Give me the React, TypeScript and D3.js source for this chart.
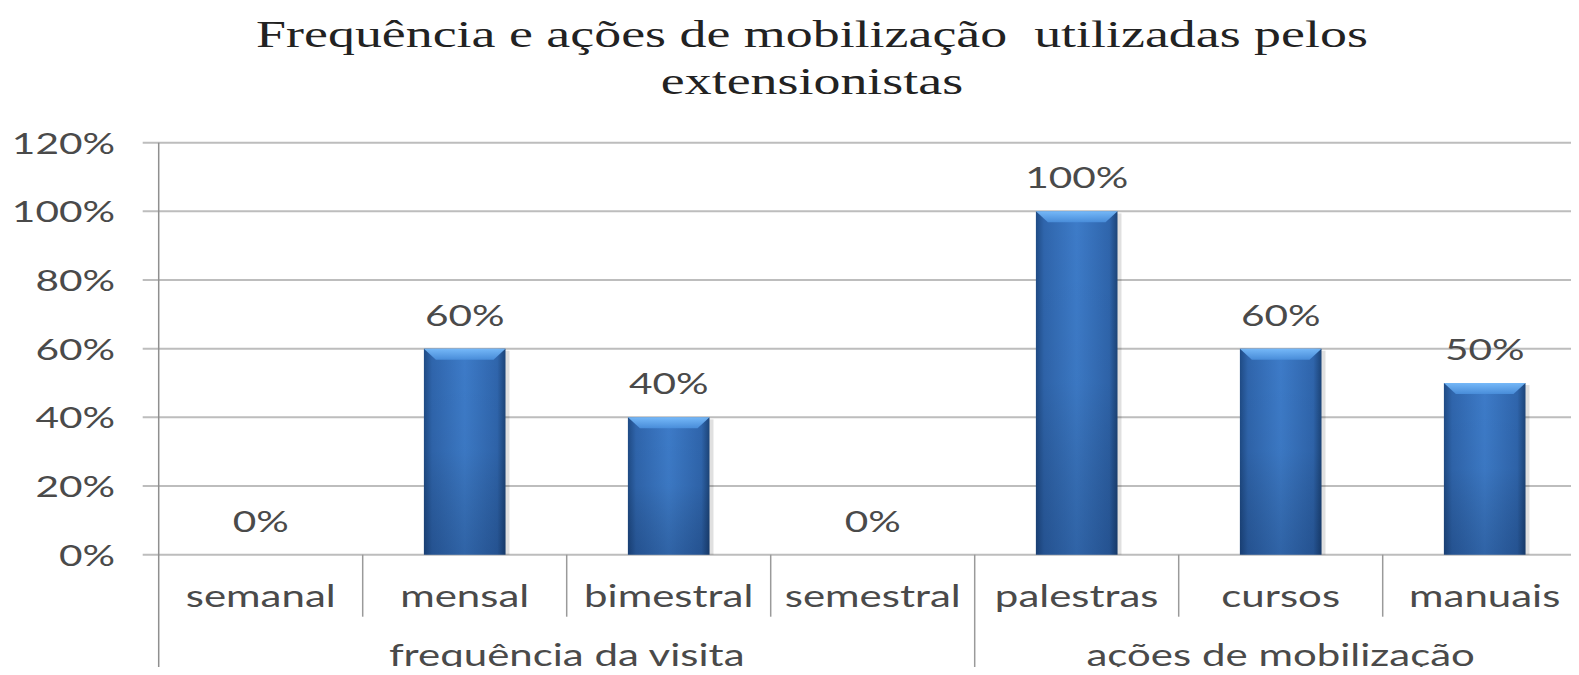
import React, { useEffect, useRef } from 'react';
import * as d3 from 'd3';

const titleLines = ['Frequência e ações de mobilização  utilizadas pelos', 'extensionistas'];
const categories = ['semanal', 'mensal', 'bimestral', 'semestral', 'palestras', 'cursos', 'manuais'];
const values = [0, 0.6, 0.4, 0, 1.0, 0.6, 0.5];
const groupNames = ['frequência da visita', 'ações de mobilização'];
const groupSizes = [4, 3];
const yTicks = [0, 0.2, 0.4, 0.6, 0.8, 1.0, 1.2];

const App: React.FC = () => {
  const chartRef = useRef<HTMLDivElement>(null);

  useEffect(() => {
    if (!chartRef.current) return;

    const width = 1579;
    const height = 675;
    const plot = { left: 158.7, right: 1586.7, top: 142.7, bottom: 554.7 };
    const sx = 1.4; // the picture is stretched sideways, text too
    const labelFont = 'Lato, "Open Sans", sans-serif';
    const textColor = '#4a4a4a';

    d3.select(chartRef.current).select('svg').remove();

    const svg = d3
      .select(chartRef.current)
      .append('svg')
      .attr('width', width)
      .attr('height', height)
      .style('display', 'block')
      .style('background', '#fff');

    const xScale = d3
      .scaleBand<string>()
      .domain(categories)
      .range([plot.left, plot.right])
      .paddingInner(0.6)
      .paddingOuter(0.3);
    const step = xScale.step();

    const yScale = d3.scaleLinear().domain([0, 1.2]).range([plot.bottom, plot.top]);

    const addText = (
      g: d3.Selection<SVGGElement, unknown, null, undefined>,
      x: number,
      y: number,
      txt: string,
      anchor: string,
      size: number,
      family: string,
      color: string,
      weight = 400,
    ) =>
      g
        .append('text')
        .attr('transform', `translate(${x},${y}) scale(${sx},1)`)
        .attr('text-anchor', anchor)
        .style('font-family', family)
        .style('font-size', `${size}px`)
        .style('font-weight', weight)
        .style('white-space', 'pre')
        .attr('fill', color)
        .text(txt);

    // defs for the bevelled bars
    const defs = svg.append('defs');
    const gh = defs.append('linearGradient').attr('id', 'barH').attr('x1', 0).attr('x2', 1).attr('y1', 0).attr('y2', 0);
    [
      [0, '#1f4b85'],
      [0.1, '#2f65ac'],
      [0.5, '#3d7bc8'],
      [0.9, '#2f65ac'],
      [1, '#1c4478'],
    ].forEach(([o, c]) => gh.append('stop').attr('offset', o as number).attr('stop-color', c as string));
    const gv = defs.append('linearGradient').attr('id', 'barV').attr('x1', 0).attr('x2', 0).attr('y1', 0).attr('y2', 1);
    gv.append('stop').attr('offset', 0).attr('stop-color', '#000').attr('stop-opacity', 0);
    gv.append('stop').attr('offset', 0.5).attr('stop-color', '#000').attr('stop-opacity', 0.03);
    gv.append('stop').attr('offset', 1).attr('stop-color', '#001030').attr('stop-opacity', 0.22);
    const gt = defs.append('linearGradient').attr('id', 'barTop').attr('x1', 0).attr('x2', 0).attr('y1', 0).attr('y2', 1);
    gt.append('stop').attr('offset', 0).attr('stop-color', '#7cc0ff');
    gt.append('stop').attr('offset', 1).attr('stop-color', '#4a8fdc');

    // title
    const tg = svg.append('g');
    titleLines.forEach((line, i) => {
      addText(tg, 812, 47.3 + i * 46.7, line, 'middle', 38.5, '"Liberation Serif", "Times New Roman", serif', '#222');
    });

    // gridlines + y labels
    const grid = svg.append('g');
    yTicks.forEach((t) => {
      grid
        .append('line')
        .attr('x1', plot.left - 16)
        .attr('x2', plot.right)
        .attr('y1', yScale(t))
        .attr('y2', yScale(t))
        .attr('stroke', '#bdbdbd')
        .attr('stroke-width', 2);
      addText(grid, 115, yScale(t) + 11, d3.format('.0%')(t), 'end', 29, labelFont, textColor);
    });

    // vertical axis + category dividers
    grid
      .append('line')
      .attr('x1', plot.left)
      .attr('x2', plot.left)
      .attr('y1', plot.top)
      .attr('y2', height)
      .attr('stroke', '#8f8f8f')
      .attr('stroke-width', 1.5);

    let start = 0;
    const groupBounds = groupSizes.map((n) => {
      const b = [start, start + n];
      start += n;
      return b;
    });
    categories.forEach((c, i) => {
      if (i === 0) return;
      const x = plot.left + i * step;
      const isGroupEdge = groupBounds.some((b) => b[0] === i);
      grid
        .append('line')
        .attr('x1', x)
        .attr('x2', x)
        .attr('y1', plot.bottom)
        .attr('y2', isGroupEdge ? height : 616.7)
        .attr('stroke', '#9a9a9a')
        .attr('stroke-width', 1.5);
    });

    // bars
    const bars = svg.append('g');
    categories.forEach((c, i) => {
      const v = values[i];
      const x = xScale(c)!;
      const w = xScale.bandwidth();
      const y = yScale(v);
      const h = plot.bottom - y;
      if (h > 0) {
        const bg = bars.append('g');
        // soft shadow on the right
        bg.append('rect')
          .attr('x', x + 2)
          .attr('y', y + 2)
          .attr('width', w + 2)
          .attr('height', h - 2)
          .attr('fill', '#000')
          .attr('opacity', 0.12);
        bg.append('rect').attr('x', x).attr('y', y).attr('width', w).attr('height', h).attr('fill', 'url(#barH)');
        bg.append('rect').attr('x', x).attr('y', y).attr('width', w).attr('height', h).attr('fill', 'url(#barV)');
        const bev = 12;
        bg.append('path')
          .attr('d', `M${x},${y}L${x + w},${y}L${x + w - bev},${y + 11}L${x + bev},${y + 11}Z`)
          .attr('fill', 'url(#barTop)')
          .attr('opacity', 0.9);
      }
      addText(bars, x + w / 2, y - 23, d3.format('.0%')(v), 'middle', 29, labelFont, textColor);
    });

    // category labels
    const cat = svg.append('g');
    categories.forEach((c) => {
      addText(cat, xScale(c)! + xScale.bandwidth() / 2, 606.7, c, 'middle', 30, labelFont, textColor);
    });
    groupNames.forEach((g, i) => {
      const [a, b] = groupBounds[i];
      const cx = plot.left + ((a + b) / 2) * step;
      addText(cat, cx, 666, g, 'middle', 30, labelFont, textColor);
    });
  }, []);

  return <div ref={chartRef} style={{ width: 1579, height: 675, margin: -8, overflow: 'hidden' }}></div>;
};

export default App;
